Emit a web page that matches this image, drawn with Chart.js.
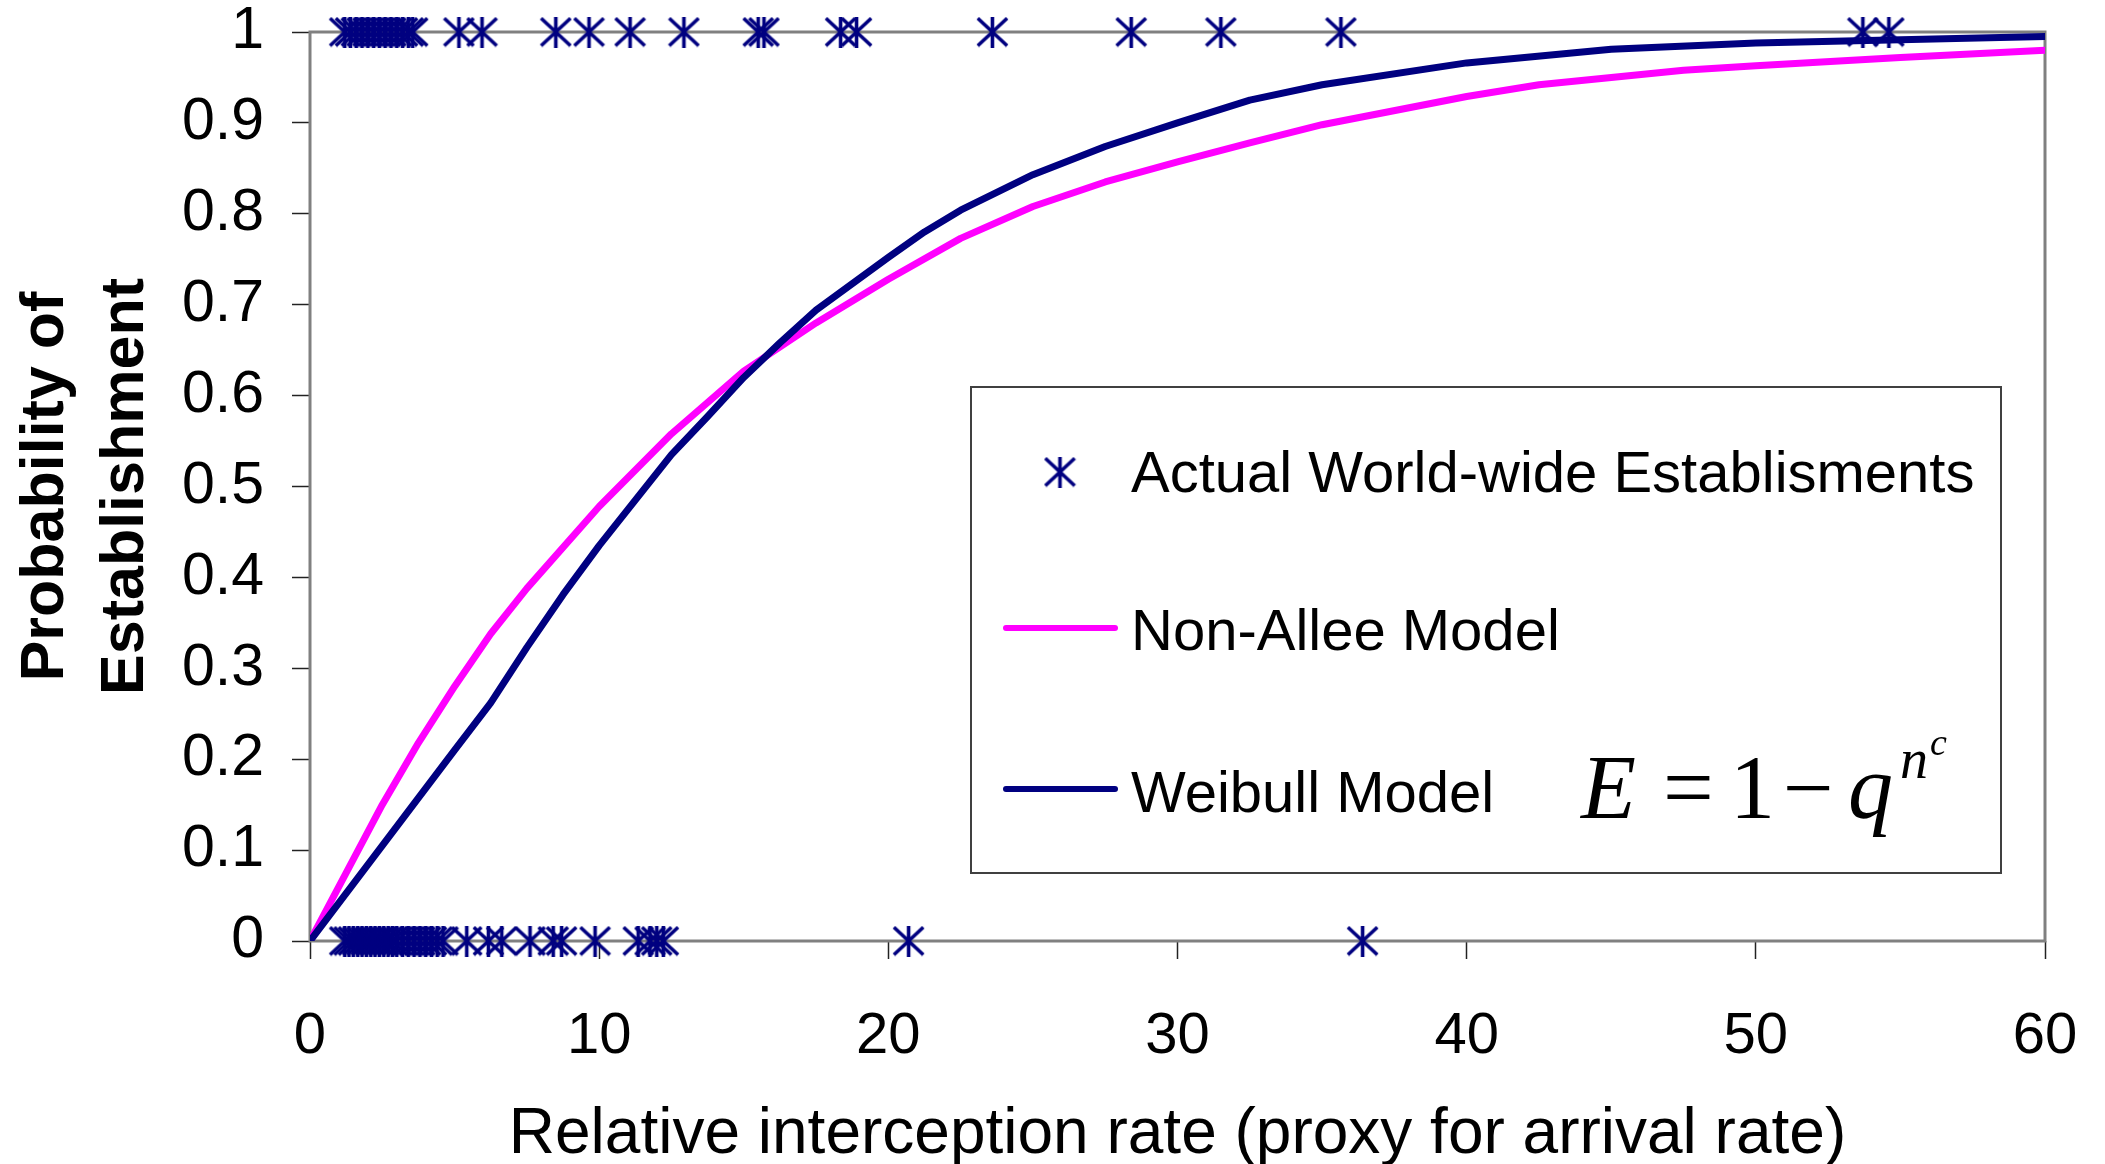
<!DOCTYPE html>
<html><head><meta charset="utf-8">
<script src="https://cdn.jsdelivr.net/npm/chart.js@4/dist/chart.umd.min.js"></script>
<style>html,body{margin:0;padding:0;background:#fff;overflow:hidden}</style>
</head><body>
<canvas id="c" width="2105" height="1164" style="display:block;width:2105px;height:1164px"></canvas>
<script>
// ---- data ----
const establishedX = [1.2, 1.4, 1.6, 1.8, 2.0, 2.2, 2.4, 2.6, 2.8, 3.0, 3.2, 3.4, 3.55, 5.15, 5.95, 8.5, 9.65, 11.07, 12.93, 15.5, 15.7, 18.35, 18.9, 23.6, 28.4, 31.5, 35.65, 53.7, 54.6];
const failedX = [1.2, 1.35, 1.5, 1.65, 1.8, 1.95, 2.1, 2.25, 2.4, 2.55, 2.7, 2.85, 3.0, 3.2, 3.4, 3.6, 3.8, 4.0, 4.2, 4.4, 4.6, 5.42, 6.17, 6.63, 7.61, 8.41, 8.70, 9.86, 11.35, 11.76, 11.99, 12.22, 20.7, 36.4];
const nonAlleeX = [0, 1.25, 2.5, 3.75, 5, 6.25, 7.5, 10, 12.5, 15, 17.5, 20, 22.5, 25, 27.5, 30, 32.5, 35, 40, 42.5, 47.5, 50, 55, 60];
const nonAlleeY = [0, 0.075, 0.150, 0.218, 0.280, 0.338, 0.388, 0.478, 0.558, 0.627, 0.680, 0.728, 0.773, 0.808, 0.835, 0.857, 0.878, 0.898, 0.929, 0.942, 0.958, 0.963, 0.972, 0.980];
const weibullX = [0, 2.5, 5, 6.25, 7.5, 8.75, 10, 12.5, 13.75, 15, 16.25, 17.5, 20, 21.25, 22.5, 25, 27.5, 30, 32.5, 35, 40, 45, 50, 60];
const weibullY = [0, 0.105, 0.210, 0.262, 0.323, 0.381, 0.435, 0.535, 0.577, 0.620, 0.658, 0.694, 0.752, 0.780, 0.804, 0.843, 0.874, 0.900, 0.925, 0.942, 0.966, 0.981, 0.988, 0.995];
const xTickValues = [0, 10, 20, 30, 40, 50, 60];
const yTickValues = [0, 0.1, 0.2, 0.3, 0.4, 0.5, 0.6, 0.7, 0.8, 0.9, 1];
const yTickLabels = ['0', '0.1', '0.2', '0.3', '0.4', '0.5', '0.6', '0.7', '0.8', '0.9', '1'];
const seriesNames = ['Actual World-wide Establisments', 'Non-Allee Model', 'Weibull Model'];
const xTitle = 'Relative interception rate (proxy for arrival rate)';
const yTitle = ['Probability of', 'Establishment'];

const NAVY = '#000080', MAGENTA = '#FF00FF', GRAY = '#808080';
const SANS = '"Liberation Sans", Arial, sans-serif';
const SERIF = '"Liberation Serif", "Times New Roman", serif';

function makeStar(w, h, lw, color) {
  const c = document.createElement('canvas');
  c.width = w; c.height = h;
  const g = c.getContext('2d');
  g.strokeStyle = color; g.lineWidth = lw;
  g.beginPath();
  g.moveTo(w / 2, 0); g.lineTo(w / 2, h);
  g.moveTo(lw / 2, lw / 2); g.lineTo(w - lw / 2, h - lw / 2);
  g.moveTo(w - lw / 2, lw / 2); g.lineTo(lw / 2, h - lw / 2);
  g.stroke();
  return c;
}
const star = makeStar(33, 31, 3.6, NAVY);

const starPoints = establishedX.map(x => ({x, y: 1})).concat(failedX.map(x => ({x, y: 0})));
const nonAllee = nonAlleeX.map((x, i) => ({x, y: nonAlleeY[i]}));
const weibull = weibullX.map((x, i) => ({x, y: weibullY[i]}));

const frame = {
  id: 'frame',
  beforeDatasetsDraw(chart) {
    const {ctx, chartArea: a} = chart;
    ctx.save();
    ctx.strokeStyle = GRAY; ctx.lineWidth = 3;
    ctx.strokeRect(a.left, a.top, a.right - a.left, a.bottom - a.top);
    ctx.restore();
  }
};

const legendBox = {
  id: 'legendBox',
  afterDatasetsDraw(chart) {
    const ctx = chart.ctx;
    ctx.save();
    ctx.fillStyle = '#fff';
    ctx.fillRect(971, 387, 1030, 486);
    ctx.strokeStyle = '#404040'; ctx.lineWidth = 2;
    ctx.strokeRect(971, 387, 1030, 486);
    ctx.drawImage(star, 1060 - 16.5, 472 - 15.5);
    ctx.lineCap = 'round'; ctx.lineWidth = 6;
    ctx.strokeStyle = MAGENTA;
    ctx.beginPath(); ctx.moveTo(1006, 628); ctx.lineTo(1115, 628); ctx.stroke();
    ctx.strokeStyle = NAVY;
    ctx.beginPath(); ctx.moveTo(1006, 789); ctx.lineTo(1115, 789); ctx.stroke();
    ctx.fillStyle = '#000';
    ctx.textBaseline = 'alphabetic'; ctx.textAlign = 'left';
    ctx.font = '58px ' + SANS;
    ctx.fillText(seriesNames[0], 1131, 492);
    ctx.fillText(seriesNames[1], 1131, 650);
    ctx.fillText(seriesNames[2], 1131, 812);
    // formula E = 1 - q^{n^c}
    ctx.font = 'italic 90px ' + SERIF;
    ctx.fillText('E', 1581, 818);
    ctx.font = '90px ' + SERIF;
    ctx.fillText('=', 1663, 818);
    ctx.fillText('1', 1730, 818);
    ctx.fillText('\u2212', 1783, 818);
    ctx.font = 'italic 90px ' + SERIF;
    ctx.fillText('q', 1848, 818);
    ctx.font = 'italic 56px ' + SERIF;
    ctx.fillText('n', 1900, 778);
    ctx.font = 'italic 38px ' + SERIF;
    ctx.fillText('c', 1930, 755);
    ctx.restore();
  }
};

new Chart(document.getElementById('c'), {
  type: 'scatter',
  data: {
    datasets: [
      { label: seriesNames[0], data: starPoints, pointStyle: star, pointRadius: 16, showLine: false, clip: false, order: 3 },
      { label: seriesNames[1], data: nonAllee, showLine: true, borderColor: MAGENTA, borderWidth: 7, pointRadius: 0, borderCapStyle: 'round', borderJoinStyle: 'round', tension: 0, order: 2 },
      { label: seriesNames[2], data: weibull, showLine: true, borderColor: NAVY, borderWidth: 7, pointRadius: 0, borderCapStyle: 'round', borderJoinStyle: 'round', tension: 0, order: 1 }
    ]
  },
  options: {
    responsive: false, animation: false, devicePixelRatio: 1,
    layout: { padding: { top: 32, right: 60, left: 0, bottom: 0 } },
    plugins: { legend: { display: false }, tooltip: { enabled: false } },
    scales: {
      x: {
        type: 'linear', min: 0, max: 60,
        afterBuildTicks: s => { s.ticks = xTickValues.map(v => ({value: v})); },
        afterFit: s => { s.height = 223; s.paddingLeft = 0; s.paddingRight = 0; },
        grid: { drawOnChartArea: false, drawTicks: true, tickLength: 18, tickColor: '#222', tickWidth: 1.5 },
        border: { display: false },
        ticks: { color: '#000', padding: 46, maxRotation: 0, autoSkip: false, font: { family: SANS, size: 58, lineHeight: 1.1 }, callback: v => String(v) },
        title: { display: true, text: xTitle, color: '#000', font: { family: SANS, size: 64, lineHeight: 1.2 }, padding: { top: 0, bottom: -10 } }
      },
      y: {
        type: 'linear', min: 0, max: 1,
        afterBuildTicks: s => { s.ticks = yTickValues.map(v => ({value: v})); },
        afterFit: s => { s.width = 310; s.paddingTop = 0; s.paddingBottom = 0; },
        grid: { drawOnChartArea: false, drawTicks: true, tickLength: 18, tickColor: '#222', tickWidth: 1.5 },
        border: { display: false },
        ticks: { color: '#000', padding: 28, autoSkip: false, font: { family: SANS, size: 59, lineHeight: 1.05 }, callback: (v, i) => yTickLabels[i] },
        title: { display: true, text: yTitle, color: '#000', font: { family: SANS, size: 61, weight: 'bold', lineHeight: 1.31 }, padding: { top: 6, bottom: 0 } }
      }
    }
  },
  plugins: [frame, legendBox]
});
</script>
</body></html>
